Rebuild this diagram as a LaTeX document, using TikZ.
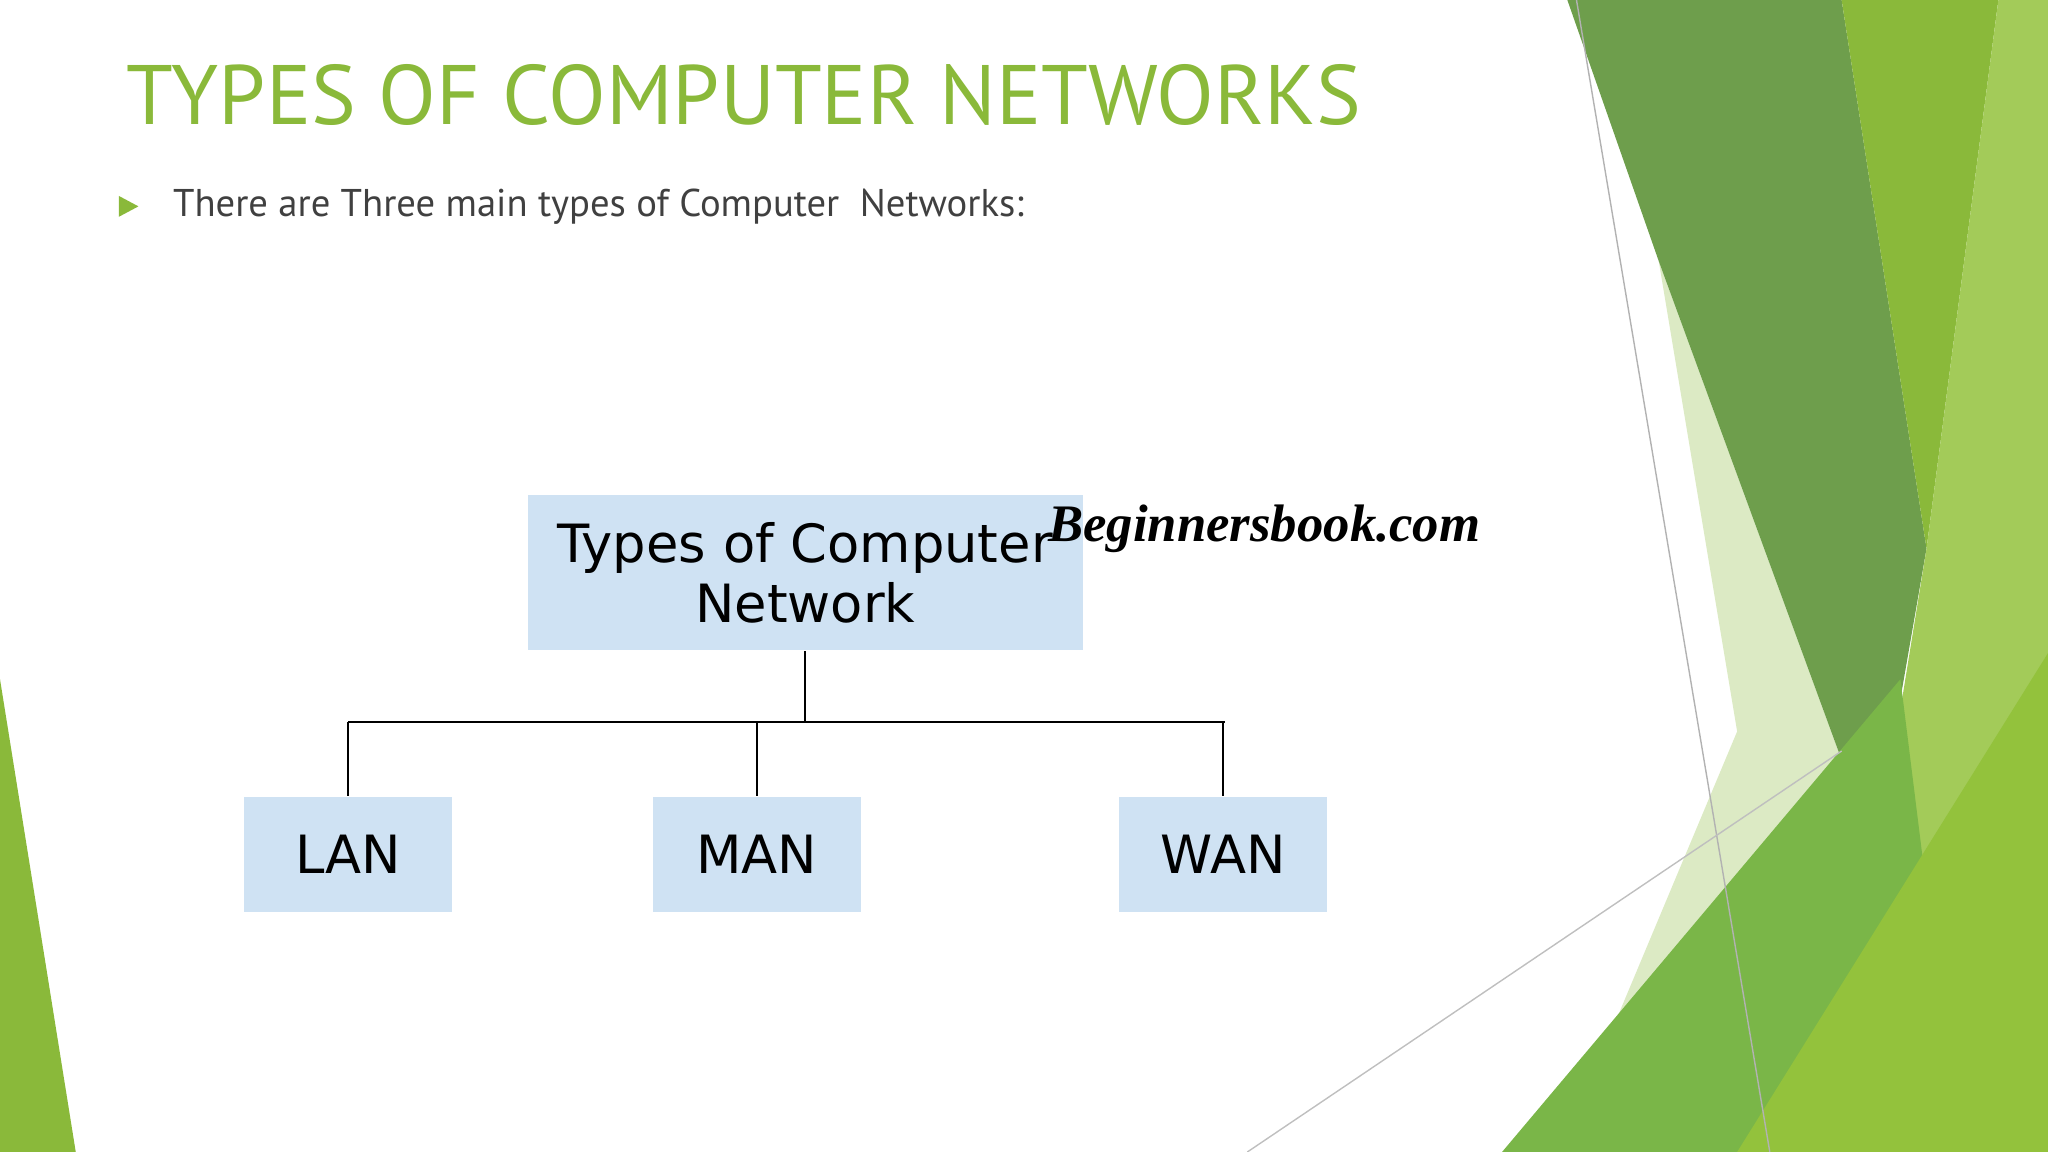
\documentclass[tikz,border=0pt]{standalone}
\usepackage{fontspec}
\setmainfont{PT Sans}
\newfontfamily\boxfont{DejaVu Sans}
\newfontfamily\markfont{Liberation Serif}
\usepackage{xcolor}
\usetikzlibrary{positioning}
\definecolor{titlegreen}{HTML}{8AB93A}
\definecolor{darkgreen}{HTML}{6E9E4C}
\definecolor{midgreen}{HTML}{7AB648}
\definecolor{brightgreen}{HTML}{93C23C}
\definecolor{palegreen}{HTML}{DCEAC4}
\definecolor{boxblue}{HTML}{CFE2F3}
\begin{document}
\begin{tikzpicture}[x=0.013061cm, y=-0.013061cm,
    netbox/.style={rectangle, fill=boxblue, inner sep=0pt, font=\boxfont\fontsize{15}{17}\selectfont, align=center},
    leaf/.style={netbox, minimum width=2.077cm, minimum height=1.149cm},
    link/.style={draw=black, line width=0.6pt}
]
    \useasboundingbox (0,0) rectangle (1568,882);
    % Hintergrund
    \fill[palegreen] (1270,200) -- (1435,650) -- (1360,882) -- (1195,882) -- (1330,560) -- cycle;
    \fill[darkgreen] (1200,0) -- (1410,0) -- (1475,420) -- (1435,650) -- (1270,200) -- cycle;
    \fill[titlegreen] (1410,0) -- (1530,0) -- (1475,420) -- cycle;
    \fill[brightgreen!85!white] (1530,0) -- (1568,0) -- (1568,882) -- (1400,882) -- (1475,420) -- cycle;
    \fill[midgreen] (1150,882) -- (1455,520) -- (1500,882) -- cycle;
    \fill[brightgreen] (1330,882) -- (1568,500) -- (1568,882) -- cycle;
    \draw[gray!60, line width=0.4pt] (1207,0) -- (1355,882);
    \draw[gray!50, line width=0.4pt] (955,882) -- (1410,575);
    \fill[titlegreen] (0,520) -- (58,882) -- (0,882) -- cycle;

    % Titel
    \node[anchor=west, text=titlegreen, font=\fontsize{24}{28}\selectfont, inner sep=0pt] (title) at (96,73) {TYPES OF COMPUTER NETWORKS};
    \fill[titlegreen] (91,150) -- (106,158) -- (91,166) -- cycle;
    \node[anchor=west, text=black!75, font=\fontsize{11}{13}\selectfont, inner sep=0pt] (intro) at (132,158) {There are Three main types of Computer\ \ Networks:};

    % Diagramm
    \node[netbox, minimum width=5.551cm, minimum height=1.554cm] (root) at (616.5,438.5) {Types of Computer\\Network};
    \node[leaf] (lan) at (266.5,654) {LAN};
    \node[leaf] (man) at (579.5,654) {MAN};
    \node[leaf] (wan) at (936.5,654) {WAN};
    \node[font=\markfont\bfseries\itshape\fontsize{15}{17}\selectfont] (mark) at (968,405) {Beginnersbook.com};

    \coordinate (hub) at (616.5,553);
    \coordinate (left) at (266.5,553);
    \coordinate (right) at (938,553);
    \draw[link] (root.south) -- (hub);
    \draw[link] (left) -- (right);
    \draw[link] (left) -- (lan.north);
    \draw[link] (man.north |- hub) -- (man.north);
    \draw[link] (wan.north |- hub) -- (wan.north);
\end{tikzpicture}
\end{document}
